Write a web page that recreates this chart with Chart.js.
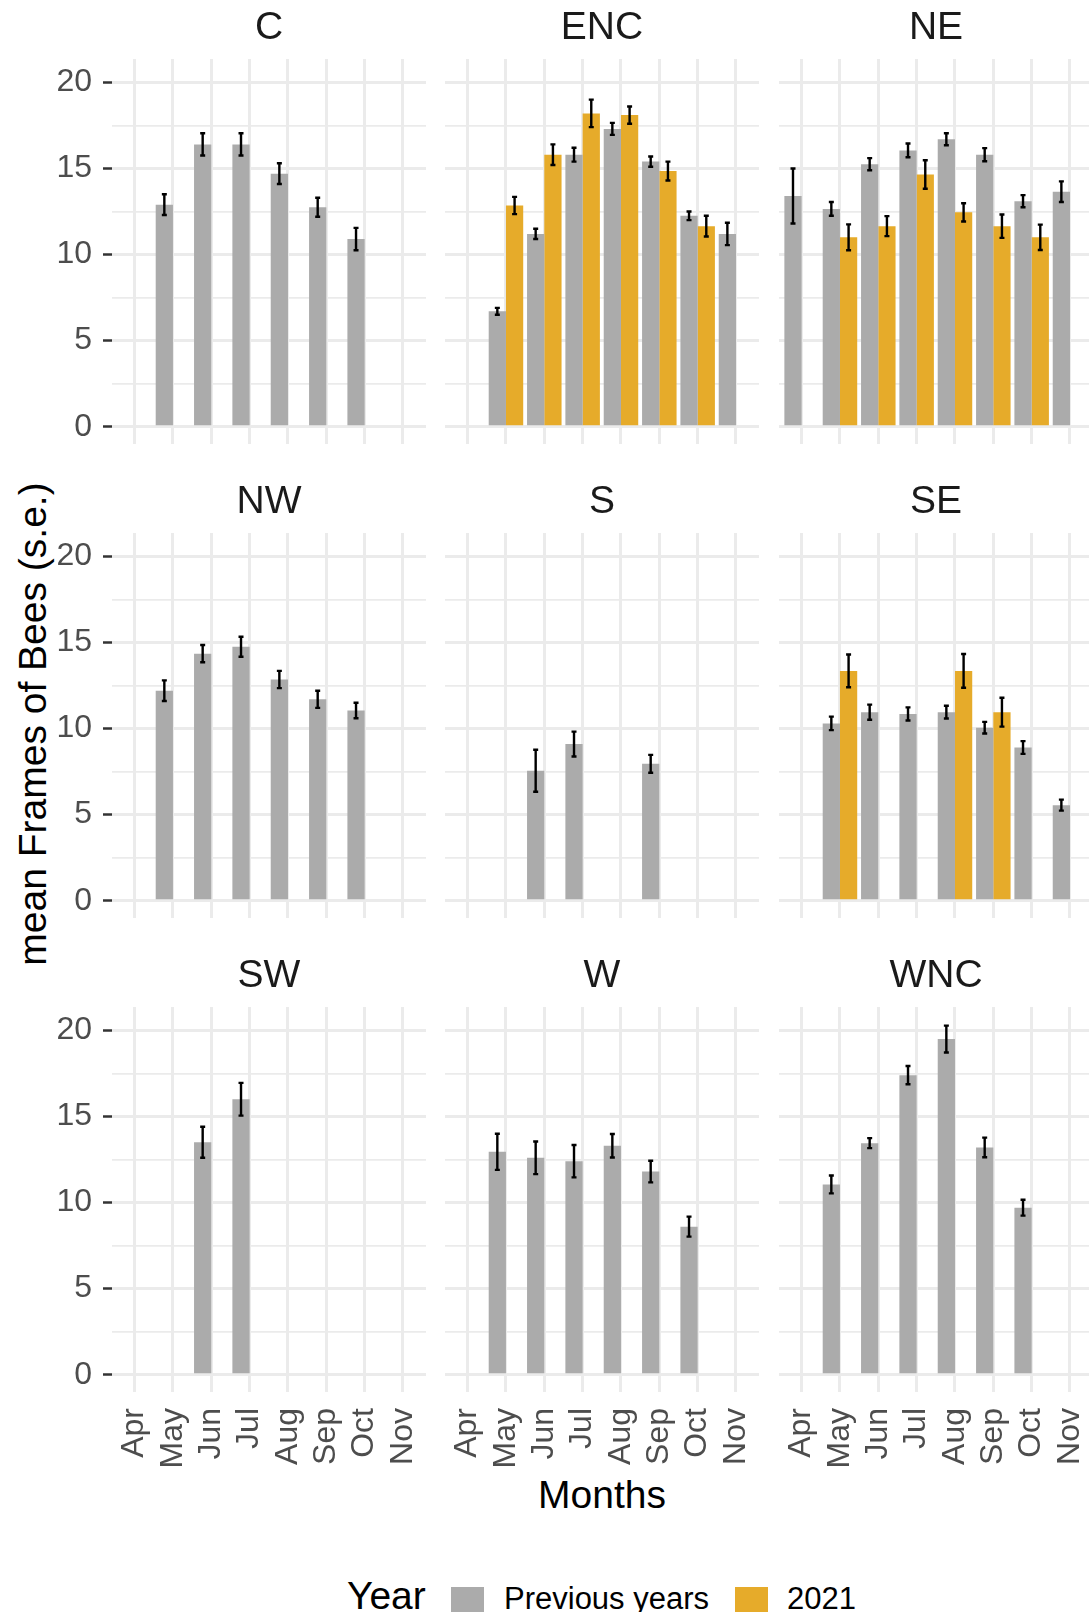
<!DOCTYPE html>
<html>
<head>
<meta charset="utf-8">
<script src="https://cdn.jsdelivr.net/npm/chart.js@4.4.1/dist/chart.umd.min.js"></script>
<style>
html,body{margin:0;padding:0;background:#fff;}
body{width:1089px;height:1612px;overflow:hidden;position:relative;font-family:'Liberation Sans',Arial,sans-serif;}
canvas{position:absolute;}
.t{position:absolute;white-space:nowrap;color:#000;line-height:1;}
.key{position:absolute;width:33px;height:33px;}
</style>
</head>
<body>
<div class="t" id="ytitle" style="font-size:39px;left:32px;top:724px;transform:translate(-50%,-50%) rotate(-90deg);">mean Frames of Bees (s.e.)</div>
<div class="t" style="font-size:39px;left:602px;top:1475px;transform:translateX(-50%);">Months</div>
<div class="t" style="font-size:39px;left:347px;top:1576px;">Year</div>
<div class="key" style="left:451px;top:1587px;background:#ABABAB;"></div>
<div class="t" style="font-size:31px;left:504px;top:1583px;">Previous years</div>
<div class="key" style="left:735px;top:1587px;background:#E6AB2A;"></div>
<div class="t" style="font-size:31px;left:787px;top:1583px;">2021</div>
<script>
// ---- data ----
const months = ['Apr','May','Jun','Jul','Aug','Sep','Oct','Nov'];
const regions = ['C','ENC','NE','NW','S','SE','SW','W','WNC'];
const yTicks = [0, 2.5, 5, 7.5, 10, 12.5, 15, 17.5, 20];

const C_prev     = [null, 12.9, 16.4, 16.4, 14.7, 12.75, 10.9, null];
const C_prevSE   = [null, 0.6, 0.65, 0.65, 0.6, 0.55, 0.65, null];
const C_2021     = [null, null, null, null, null, null, null, null];
const C_2021SE   = [null, null, null, null, null, null, null, null];

const ENC_prev   = [null, 6.7, 11.2, 15.8, 17.3, 15.4, 12.25, 11.2];
const ENC_prevSE = [null, 0.2, 0.3, 0.4, 0.35, 0.3, 0.25, 0.65];
const ENC_2021   = [null, 12.85, 15.8, 18.2, 18.1, 14.85, 11.65, null];
const ENC_2021SE = [null, 0.5, 0.6, 0.8, 0.5, 0.55, 0.6, null];

const NE_prev    = [13.4, 12.65, 15.25, 16.05, 16.7, 15.8, 13.1, 13.65];
const NE_prevSE  = [1.6, 0.4, 0.35, 0.4, 0.35, 0.38, 0.35, 0.6];
const NE_2021    = [null, 11.0, 11.65, 14.65, 12.45, 11.65, 11.0, null];
const NE_2021SE  = [null, 0.75, 0.58, 0.83, 0.53, 0.68, 0.74, null];

const NW_prev    = [null, 12.2, 14.35, 14.75, 12.85, 11.7, 11.05, null];
const NW_prevSE  = [null, 0.6, 0.5, 0.58, 0.5, 0.5, 0.45, null];
const NW_2021    = [null, null, null, null, null, null, null, null];
const NW_2021SE  = [null, null, null, null, null, null, null, null];

const S_prev     = [null, null, 7.55, 9.1, null, 7.95, null, null];
const S_prevSE   = [null, null, 1.22, 0.72, null, 0.52, null, null];
const S_2021     = [null, null, null, null, null, null, null, null];
const S_2021SE   = [null, null, null, null, null, null, null, null];

const SE_prev    = [null, 10.3, 10.95, 10.85, 10.95, 10.05, 8.9, 5.55];
const SE_prevSE  = [null, 0.39, 0.44, 0.38, 0.37, 0.34, 0.37, 0.32];
const SE_2021    = [null, 13.35, null, null, 13.35, 10.95, null, null];
const SE_2021SE  = [null, 0.95, null, null, 0.98, 0.84, null, null];

const SW_prev    = [null, null, 13.5, 16.0, null, null, null, null];
const SW_prevSE  = [null, null, 0.9, 0.95, null, null, null, null];
const SW_2021    = [null, null, null, null, null, null, null, null];
const SW_2021SE  = [null, null, null, null, null, null, null, null];

const W_prev     = [null, 12.95, 12.6, 12.4, 13.3, 11.8, 8.6, null];
const W_prevSE   = [null, 1.05, 0.95, 0.94, 0.68, 0.63, 0.58, null];
const W_2021     = [null, null, null, null, null, null, null, null];
const W_2021SE   = [null, null, null, null, null, null, null, null];

const WNC_prev   = [null, 11.05, 13.45, 17.4, 19.5, 13.2, 9.7, null];
const WNC_prevSE = [null, 0.52, 0.29, 0.53, 0.78, 0.57, 0.46, null];
const WNC_2021   = [null, null, null, null, null, null, null, null];
const WNC_2021SE = [null, null, null, null, null, null, null, null];

const panelTable = {
  C:   [C_prev, C_prevSE, C_2021, C_2021SE],
  ENC: [ENC_prev, ENC_prevSE, ENC_2021, ENC_2021SE],
  NE:  [NE_prev, NE_prevSE, NE_2021, NE_2021SE],
  NW:  [NW_prev, NW_prevSE, NW_2021, NW_2021SE],
  S:   [S_prev, S_prevSE, S_2021, S_2021SE],
  SE:  [SE_prev, SE_prevSE, SE_2021, SE_2021SE],
  SW:  [SW_prev, SW_prevSE, SW_2021, SW_2021SE],
  W:   [W_prev, W_prevSE, W_2021, W_2021SE],
  WNC: [WNC_prev, WNC_prevSE, WNC_2021, WNC_2021SE]
};

// ---- layout / style ----
Chart.defaults.font.family = "'Liberation Sans', Arial, sans-serif";
const GREY = '#ABABAB', ORANGE = '#E6AB2A', GRID = '#EBEBEB';
const colLeft = [112, 445, 779], rowTop = [59, 533, 1007];
const PW = 314, PH = 385, PADL = 110, PADT = 60, PADR = 12, PADB = 110;

const errorBars = {
  id: 'errorBars',
  afterDatasetsDraw(chart) {
    const ctx = chart.ctx, ys = chart.scales.y;
    chart.data.datasets.forEach((ds, d) => {
      const meta = chart.getDatasetMeta(d);
      meta.data.forEach((el, j) => {
        const raw = ds.data[j];
        const se = ds.se[raw.x];
        if (se == null) return;
        const x = el.x;
        const y1 = ys.getPixelForValue(raw.y + se);
        const y2 = ys.getPixelForValue(raw.y - se);
        ctx.save();
        ctx.strokeStyle = '#000';
        ctx.lineWidth = 2.4;
        ctx.beginPath();
        ctx.moveTo(x, y1); ctx.lineTo(x, y2);
        ctx.moveTo(x - 2.5, y1); ctx.lineTo(x + 2.5, y1);
        ctx.moveTo(x - 2.5, y2); ctx.lineTo(x + 2.5, y2);
        ctx.stroke();
        ctx.restore();
      });
    });
  }
};

const strip = {
  id: 'strip',
  afterDraw(chart, args, opts) {
    const a = chart.chartArea, ctx = chart.ctx;
    ctx.save();
    ctx.font = "39px 'Liberation Sans', Arial, sans-serif";
    ctx.fillStyle = '#1A1A1A';
    ctx.textAlign = 'center';
    ctx.textBaseline = 'alphabetic';
    ctx.fillText(opts.text, (a.left + a.right) / 2, a.top - 20);
    ctx.restore();
  }
};

function pts(arr) {
  return arr.map((v, i) => (v == null ? null : { x: i, y: v })).filter(p => p);
}

regions.forEach((reg, k) => {
  const col = k % 3, row = Math.floor(k / 3);
  const [prev, prevSE, cur, curSE] = panelTable[reg];
  const cv = document.createElement('canvas');
  const W = PADL + PW + PADR, H = PADT + PH + PADB;
  cv.width = W; cv.height = H;
  cv.style.width = W + 'px'; cv.style.height = H + 'px';
  cv.style.left = (colLeft[col] - PADL) + 'px';
  cv.style.top = (rowTop[row] - PADT) + 'px';
  document.body.appendChild(cv);

  new Chart(cv, {
    type: 'bar',
    data: {
      datasets: [
        { label: 'Previous years', data: pts(prev), se: prevSE, backgroundColor: GREY,
          borderWidth: 0, categoryPercentage: 0.9, barPercentage: 1.0 },
        { label: '2021', data: pts(cur), se: curSE, backgroundColor: ORANGE,
          borderWidth: 0, categoryPercentage: 0.9, barPercentage: 1.0 }
      ]
    },
    options: {
      responsive: false,
      animation: false,
      devicePixelRatio: 1,
      events: [],
      layout: { padding: { left: 0, top: PADT, right: PADR, bottom: 10 } },
      plugins: {
        legend: { display: false },
        tooltip: { enabled: false },
        strip: { text: reg }
      },
      scales: {
        x: {
          type: 'linear',
          min: -0.59, max: 7.6,
          offset: false,
          afterBuildTicks: s => { s.ticks = months.map((m, i) => ({ value: i })); },
          afterFit: s => { s.height = PADB - 10; s.paddingLeft = 0; s.paddingRight = 0; },
          border: { display: false },
          grid: { color: GRID, lineWidth: 3, drawTicks: false, offset: false },
          ticks: {
            display: row === 2,
            autoSkip: false,
            minRotation: 90, maxRotation: 90,
            padding: 16,
            color: '#4D4D4D',
            font: { size: 32 },
            callback: v => months[v]
          }
        },
        y: {
          type: 'linear',
          min: -1.006, max: 21.36,
          afterBuildTicks: s => { s.ticks = yTicks.map(v => ({ value: v })); },
          afterFit: s => { s.width = PADL; s.paddingTop = 0; s.paddingBottom = 0; },
          border: { display: false },
          grid: {
            color: GRID,
            lineWidth: c => (c.tick && c.tick.value % 5 === 0 ? 3 : 1.7),
            drawTicks: col === 0,
            tickLength: 9,
            tickWidth: 2.5,
            tickColor: c => (c.tick && c.tick.value % 5 === 0 ? '#333333' : 'rgba(0,0,0,0)')
          },
          ticks: {
            display: col === 0,
            autoSkip: false,
            padding: 11,
            color: '#4D4D4D',
            font: { size: 32 },
            callback: v => (v % 5 === 0 ? String(v) : '')
          }
        }
      }
    },
    plugins: [errorBars, strip]
  });
});
</script>
</body>
</html>
